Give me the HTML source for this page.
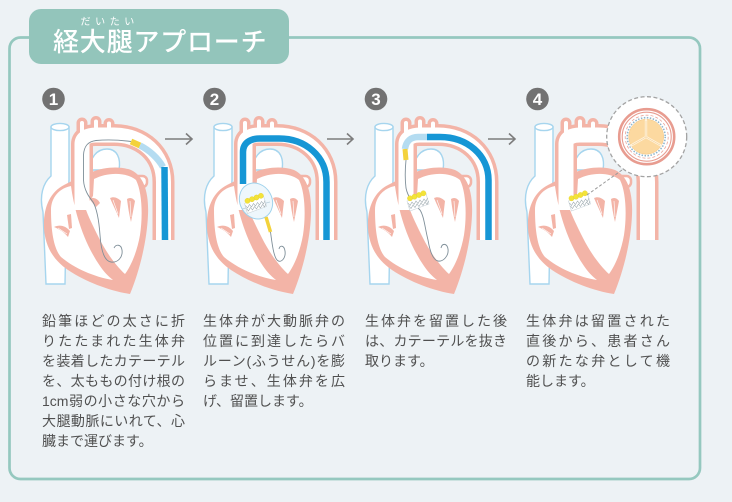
<!DOCTYPE html>
<html><head><meta charset="utf-8">
<style>
html,body{margin:0;padding:0;}
body{width:732px;height:502px;background:#edf2f5;position:relative;overflow:hidden;font-family:"Liberation Sans","Noto Sans CJK JP",sans-serif;}
svg{position:absolute;left:0;top:0;}
.title{position:absolute;left:53px;top:26.5px;font-size:26px;line-height:30px;color:#fff;letter-spacing:0.8px;white-space:nowrap;font-weight:500;}
.ruby{position:absolute;left:80.5px;top:16.5px;font-size:10px;line-height:12px;color:#fff;letter-spacing:4.6px;white-space:nowrap;}
.col{position:absolute;top:311px;font-size:14px;line-height:20px;color:#505050;}
.col div{text-align:justify;text-align-last:justify;text-justify:inter-character;}
.col div.l{text-align-last:left;text-align:left;}
</style></head>
<body>
<svg width="732" height="502" viewBox="0 0 732 502">
<defs>
<g id="heart">
  <path d="M21,47 L21,96 C13,103 9,116 13,132 L16,204 L35,204 L36,150 L39,100 L39,47 Z" fill="#fff" stroke="#a6d5ee" stroke-width="1.4"/>
  <ellipse cx="30" cy="47" rx="9" ry="3.6" fill="#fff" stroke="#a6d5ee" stroke-width="1.4"/>
  <path d="M61,90 C59,78 67,69 77,69 C87,69 91,78 89,90 Z" fill="#fff" stroke="#a6d5ee" stroke-width="1.4"/>
  <rect x="100" y="96" width="17" height="11" rx="4.5" fill="#fff" stroke="#f3b4a7" stroke-width="2.5"/>
  <path d="M14,148 C13,128 20,112 34,105 C44,100 52,96 62,92 C74,87 90,86 101,90 C114,96 119,113 118,135 C117,160 110,190 100,214 C80,211 56,202 38,190 C22,179 15,165 14,148 Z" fill="#f3b4a7"/>
  <path d="M52,130 L52,64 C52,58 58,55 66,55 L84,55 C112,55 133.5,74 133.5,102 L133.5,160" fill="none" stroke="#f3b4a7" stroke-width="22"/>
  <path d="M52,55 V43 M66,55 V41.5 M79,55 V43.5" stroke="#f3b4a7" stroke-width="11" stroke-linecap="round"/>
  <path d="M52,130 L52,64 C52,58 58,55 66,55 L84,55 C112,55 133.5,74 133.5,102 L133.5,160" fill="none" stroke="#fff" stroke-width="15"/>
  <path d="M52,55 V43 M66,55 V41.5 M79,55 V43.5" stroke="#fff" stroke-width="4" stroke-linecap="round"/>
  <!-- chambers -->
  <path d="M21,130 C21,117 30,108 41,106 C44,128 52,160 70,186 C74,192 78,196 83,200 C64,197 44,188 31,177 C24,169 21,152 21,130 Z" fill="#fff"/>
  <path d="M64,99 C78,92 96,92 106,100 C112,112 113,135 110,155 C107,172 101,186 95,194 C86,186 76,172 69,158 C63,146 58,136 55,127 L63,116 Z" fill="#fff"/>
  <!-- leaflets -->
  <path d="M24,147 C30,144 36,146 40,151 L38,157 C34,152 29,149 24,147 Z" fill="#f3b4a7"/>
  <path d="M28,148 L37,154" stroke="#fff" stroke-width="0.6"/>
  <path d="M37,135 L41,134 L42,148 L39,149 Z" fill="#f3b4a7"/>
  <path d="M80,118 C84,116 88,118 91,121 L89,138 C86,131 83,125 80,118 Z" fill="#f3b4a7"/>
  <path d="M83,120 L88,134" stroke="#fff" stroke-width="0.6"/>
  <path d="M97,119 C100,117 103,118 105,121 L101,142 C99,134 98,127 97,119 Z" fill="#f3b4a7"/>
  <path d="M100,121 L101,137" stroke="#fff" stroke-width="0.6"/>
  <path d="M59,118 C64,117 68,119 70,123 L66,127 C63,124 61,121 59,118 Z" fill="#f3b4a7"/>
</g>
<g id="stent">
  <path d="M53,121 L72,113.5 L75,124 L56,131 Z" fill="#fff" stroke="#c9d3d8" stroke-width="0.6"/>
  <polyline points="54,123 56,125.5 58,122 60,124.5 62,121 64,123.5 66,120 68,122.5 70,119 72,121.5 73.5,118" fill="none" stroke="#9aa7ad" stroke-width="0.6"/>
  <polyline points="55,126 57,128.5 59,125 61,127.5 63,124 65,126.5 67,123 69,125.5 71,122 73,124.5 74.5,121" fill="none" stroke="#9aa7ad" stroke-width="0.6"/>
  <circle cx="56" cy="118.3" r="2.6" fill="#f3e339" stroke="#e5cf2a" stroke-width="0.4"/>
  <circle cx="60.5" cy="116.7" r="2.6" fill="#f3e339" stroke="#e5cf2a" stroke-width="0.4"/>
  <circle cx="65" cy="115" r="2.6" fill="#f3e339" stroke="#e5cf2a" stroke-width="0.4"/>
  <circle cx="69.4" cy="113.3" r="2.6" fill="#f3e339" stroke="#e5cf2a" stroke-width="0.4"/>
</g>
</defs>

<!-- border & tab -->
<rect x="9.5" y="37.5" width="690.5" height="441.5" rx="11" fill="none" stroke="#95c8bf" stroke-width="2.7"/>
<rect x="29" y="9" width="260" height="55" rx="12" fill="#93c5bb"/>

<!-- numbers -->
<g fill="#727272">
<circle cx="53.5" cy="99" r="11.3"/><circle cx="214.5" cy="99" r="11.3"/><circle cx="376" cy="99" r="11.3"/><circle cx="537.5" cy="99" r="11.3"/>
</g>
<g fill="#fff" font-family="Liberation Sans" font-weight="bold" font-size="17" text-anchor="middle">
<text x="53.5" y="105">1</text><text x="214.5" y="105">2</text><text x="376" y="105">3</text><text x="537.5" y="105">4</text>
</g>

<!-- arrows -->
<g stroke="#7d7d7d" stroke-width="1.6" fill="none">
<path d="M165,139 H192 M186,133.5 L192,139 L186,144.5"/>
<path d="M327,139 H353 M347,133.5 L353,139 L347,144.5"/>
<path d="M488,139 H515 M509,133.5 L515,139 L509,144.5"/>
</g>

<!-- Panel 1 -->
<g transform="translate(30,80)">
  <use href="#heart"/>
  <path d="M101,61.5 C90,60 76,59.5 66,60.5 C58,61.5 54,66 53.5,75 L53.5,100 C54,110 59,117 63,122 C67,129 69,141 70,155 C71,170 74,181 81,182 C88,183 93,177 92,170 C91,164 86,164 84,168" fill="none" stroke="#7f8f99" stroke-width="0.9"/>
  <path d="M101,61.5 L110,65.5" stroke="#f3d23c" stroke-width="6"/>
  <path d="M110,65.5 C119,70 128,78 133,87" fill="none" stroke="#b4dcf1" stroke-width="6.5"/>
  <path d="M134.5,87 L135,160" stroke="#1696d5" stroke-width="6.5"/>
</g>

<!-- Panel 2 -->
<g transform="translate(193,80)">
  <use href="#heart"/>
  <path d="M133.5,160 L133.5,102 C133.5,76 112,58.5 86,58.5 L67,58.5 C57,58.5 50,63 50,72 L50,104" fill="none" stroke="#1696d5" stroke-width="6.5"/>
  <ellipse cx="63" cy="121" rx="16" ry="18.5" transform="rotate(-29 63 121)" fill="#eef7fc" stroke="#9fd2ec" stroke-width="1"/>
  <path d="M49,129 L77,122" stroke="#b9cfdb" stroke-width="0.8"/>
  <use href="#stent" transform="translate(-1.5,2.5)"/>
  <path d="M73,137 L77.5,152" stroke="#f3d23c" stroke-width="3.5"/>
  <path d="M77.5,152 C79,163 80.5,176 84,180 C88,184 93,178 92,171 C91,165 87,165 86,169" fill="none" stroke="#7f8f99" stroke-width="0.9"/>
</g>

<!-- Panel 3 -->
<g transform="translate(354,80)">
  <use href="#heart"/>
  <path d="M52,80 C51,90 51,100 52,108 C54,118 60,124 66,130 C70,136 71,148 74,160 C76,172 79,180 84,181 C89,182 95,176 94,169 C93,163 88,163 87,168" fill="none" stroke="#7f8f99" stroke-width="0.9"/>
  <path d="M134.5,160 L134.5,100 C134.5,75 113,57 86,57 L73,57" fill="none" stroke="#1696d5" stroke-width="6.5"/>
  <path d="M73,57 L64,57 C57,57 52,61 51,69" fill="none" stroke="#b4dcf1" stroke-width="6.5"/>
  <path d="M51,69 L52,80" stroke="#f3d23c" stroke-width="5"/>
  <use href="#stent"/>
</g>

<!-- Panel 4 -->
<g transform="translate(514,80)">
  <use href="#heart"/>
  <use href="#stent" transform="translate(1.5,0)"/>
  <path d="M73,115 L108,90" stroke="#9a9a9a" stroke-width="1" stroke-dasharray="3 2"/>
</g>
<!-- magnified circle -->
<circle cx="646.7" cy="136.7" r="40" fill="#fff" stroke="#a3a3a3" stroke-width="1.3" stroke-dasharray="4 2.5"/>
<circle cx="646.7" cy="136.7" r="27.5" fill="#fff" stroke="#e89c90" stroke-width="2.6"/>
<circle cx="646.7" cy="136.7" r="24.5" fill="none" stroke="#e89c90" stroke-width="1.1"/>
<circle cx="646.7" cy="136.7" r="21.5" fill="none" stroke="#eaa59a" stroke-width="0.8" stroke-dasharray="3 2"/>
<circle cx="646.2" cy="136.7" r="19" fill="none" stroke="#8fb6cc" stroke-width="1.6" stroke-dasharray="1.5 1.5"/>
<circle cx="646.2" cy="136.7" r="17.5" fill="#fcd9a0" stroke="#f3c27d" stroke-width="0.5"/>
<path d="M646,137 L646,120 M646,137 L631,145.5 M646,137 L661,145.5" stroke="#fff2da" stroke-width="2.4" stroke-linecap="round"/>
<path d="M646,137 L646,121 M646,137 L632,145 M646,137 L660,145" stroke="#f2c989" stroke-width="0.5"/>
</svg>

<div class="ruby">だいたい</div>
<div class="title">経大腿アプローチ</div>

<div class="col" style="left:42px;width:143px;">
<div>鉛筆ほどの太さに折</div>
<div>りたたまれた生体弁</div>
<div>を装着したカテーテル</div>
<div>を、太ももの付け根の</div>
<div>1cm弱の小さな穴から</div>
<div>大腿動脈にいれて、心</div>
<div class="l">臓まで運びます。</div>
</div>

<div class="col" style="left:203px;width:142px;">
<div>生体弁が大動脈弁の</div>
<div>位置に到達したらバ</div>
<div>ルーン(ふうせん)を膨</div>
<div>らませ、生体弁を広</div>
<div class="l">げ、留置します。</div>
</div>

<div class="col" style="left:365px;width:142px;">
<div>生体弁を留置した後</div>
<div>は、カテーテルを抜き</div>
<div class="l">取ります。</div>
</div>

<div class="col" style="left:526px;width:144px;">
<div>生体弁は留置された</div>
<div>直後から、患者さん</div>
<div>の新たな弁として機</div>
<div class="l">能します。</div>
</div>
</body></html>
